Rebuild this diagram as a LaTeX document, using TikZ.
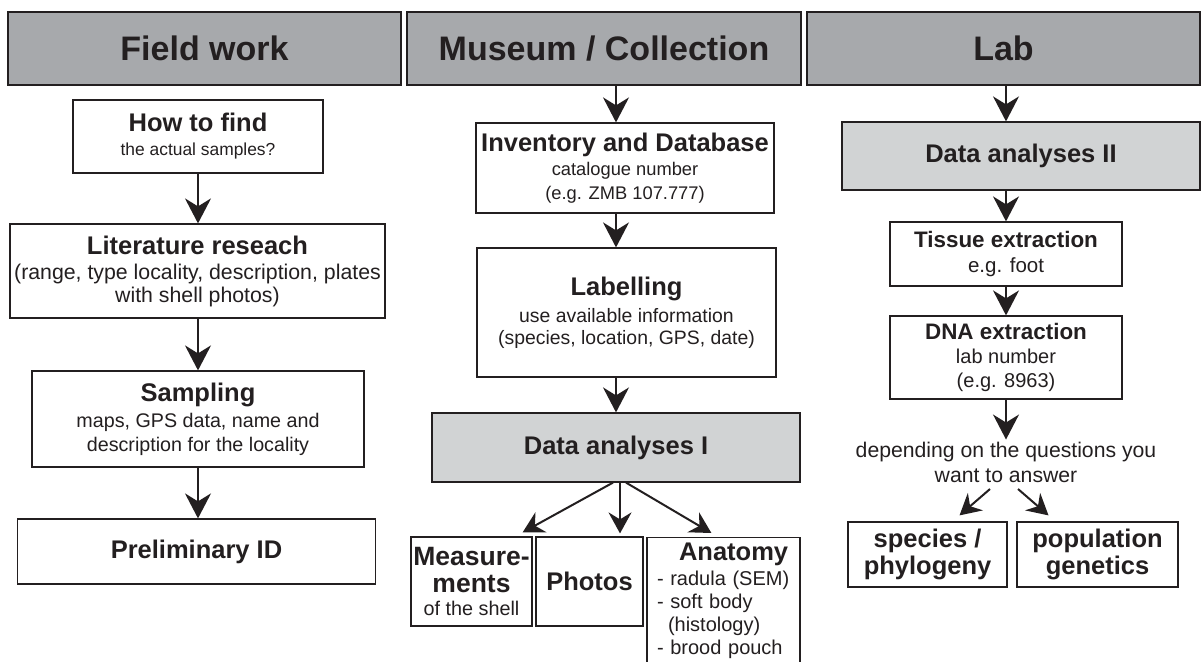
\documentclass[tikz,border=0pt]{standalone}
\usepackage{fontspec}
\setmainfont{Liberation Sans}
\usepackage{tikz}
\usetikzlibrary{positioning,arrows.meta}

\definecolor{ink}{HTML}{231F20}
\definecolor{headgray}{HTML}{A7A9AC}
\definecolor{stepgray}{HTML}{D1D3D4}

\newcommand{\boxtitle}[2]{{\bfseries\fontsize{#1}{#1}\selectfont #2}}

\tikzset{
	box/.style={draw=ink, line width=1.2pt, fill=white, text=ink, inner sep=0pt, align=center},
	header/.style={box, fill=headgray, line width=2pt, minimum height=73pt, font=\bfseries\fontsize{34}{40}\selectfont},
	shaded/.style={box, fill=stepgray},
	arr/.style={draw=ink, line width=2pt, -{Stealth[length=25pt,width=26pt,inset=8pt]}},
	arrsmall/.style={draw=ink, line width=2pt, -{Stealth[length=21pt,width=23pt,inset=7pt]}},
}

\begin{document}
\begin{tikzpicture}[x=1pt,y=-1pt]
		\useasboundingbox (0,0) rectangle (1201,661);
		\clip (0,0) rectangle (1201,661);
		% Headers
		\node[header, minimum width=393pt] (hdrField) at (204.5,48.5) {Field work};
		\node[header, minimum width=394pt] (hdrMuseum) at (604,48.5) {Museum / Collection};
		\node[header, minimum width=393pt] (hdrLab) at (1003.5,48.5) {Lab};
		% Field work
		\node[box, minimum width=250pt, minimum height=73pt, font=\fontsize{17.4}{21}\selectfont] (find) at (198,136.5)
			{\boxtitle{25.5}{How to find}\\[3pt] the actual samples?};
		\node[box, minimum width=375pt, minimum height=94pt, font=\fontsize{21.3}{23}\selectfont] (lit) at (197.5,271)
			{\boxtitle{25.5}{Literature reseach}\\[2pt] (range, type locality, description, plates\\ with shell photos)};
		\node[box, minimum width=332pt, minimum height=96pt, font=\fontsize{19.7}{24}\selectfont] (samp) at (198,419)
			{\boxtitle{25.5}{Sampling}\\[2pt] maps, GPS data, name and\\ description for the locality};
		\node[box, minimum width=358pt, minimum height=65pt] (prelim) at (196.5,551.5)
			{\boxtitle{25.5}{Preliminary ID}};
		\draw[arr] (find.south) -- (find.south |- lit.north);
		\draw[arr] (lit.south -| find.south) -- (find.south |- samp.north);
		\draw[arr] (samp.south -| find.south) -- (find.south |- prelim.north);
		% Museum / Collection
		\node[box, minimum width=298pt, minimum height=90pt, font=\fontsize{18.3}{24}\selectfont] (inv) at (625,168)
			{\boxtitle{25.5}{Inventory and Database}\\[0pt] catalogue number\\ (e.g. ZMB 107.777)};
		\node[box, minimum width=299pt, minimum height=129pt, font=\fontsize{19.4}{22}\selectfont] (lbl) at (626.5,312.5)
			{\boxtitle{25.5}{Labelling}\\[5pt] use available information\\ (species, location, GPS, date)};
		\node[shaded, minimum width=368pt, minimum height=69pt] (da1) at (616,447.5)
			{\boxtitle{25.5}{Data analyses I}};
		\node[box, minimum width=121pt, minimum height=89pt, font=\fontsize{19.8}{24}\selectfont] (meas) at (471.5,581.5)
			{\boxtitle{26.5}{Measure-}\\[3pt] \boxtitle{26.5}{ments}\\[-1pt] of the shell};
		\node[box, minimum width=107pt, minimum height=89pt] (photos) at (589.5,581.5)
			{\boxtitle{25.5}{Photos}};
		\node[box, anchor=north, text width=133pt, inner xsep=10pt, align=left, font=\fontsize{20}{23}\selectfont] (anat) at (723.5,537)
			{\rule{0pt}{23pt}\hspace*{22pt}\boxtitle{25.5}{Anatomy}\\[2pt]
			- radula (SEM)\\ - soft body\\ \hspace*{11pt}(histology)\\ - brood pouch\par\vspace*{40pt}};
		\draw[arr] (hdrMuseum.south -| da1.north) -- (inv.north -| da1.north);
		\draw[arr] (inv.south -| da1.north) -- (lbl.north -| da1.north);
		\draw[arr] (lbl.south -| da1.north) -- (da1.north);
		\draw[arrsmall] ([xshift=-3pt]da1.south) -- ([xshift=-10pt,yshift=4pt]meas.north east);
		\draw[arrsmall] ([xshift=4pt]da1.south) -- ([xshift=4pt,yshift=3pt]da1.south |- photos.north);
		\draw[arrsmall] ([xshift=10pt]da1.south) -- ([xshift=65pt,yshift=4pt]anat.north west);
		% Lab
		\node[shaded, minimum width=358pt, minimum height=68pt] (da2) at (1021,156)
			{\boxtitle{25.5}{Data analyses II}};
		\node[box, minimum width=232pt, minimum height=64pt, font=\fontsize{20.5}{24}\selectfont] (tissue) at (1006,254)
			{\boxtitle{22.4}{Tissue extraction}\\[1pt] e.g. foot};
		\node[box, minimum width=232pt, minimum height=83pt, font=\fontsize{20}{24}\selectfont] (dna) at (1006,357.5)
			{\boxtitle{22.4}{DNA extraction}\\[0pt] lab number\\ (e.g. 8963)};
		\node[text=ink, align=center, inner sep=0pt, font=\fontsize{21.2}{25}\selectfont] (question) at (1006,462)
			{depending on the questions you\\ want to answer};
		\node[box, minimum width=159pt, minimum height=65pt, font=\bfseries\fontsize{25.5}{27}\selectfont] (species) at (927.5,554.5)
			{species /\\ phylogeny};
		\node[box, minimum width=161pt, minimum height=65pt, font=\bfseries\fontsize{25.5}{27}\selectfont] (popgen) at (1097.5,554.5)
			{population\\ genetics};
		\coordinate (qleft) at (990,489);
		\coordinate (qright) at (1018,489);
		\draw[arr] (hdrLab.south -| tissue.north) -- (da2.north -| tissue.north);
		\draw[arr] (da2.south -| tissue.north) -- (tissue.north);
		\draw[arr] (tissue.south) -- (dna.north);
		\draw[arr] (dna.south) -- ([yshift=2pt]question.north);
		\draw[arrsmall] (qleft) -- ([xshift=32pt,yshift=6pt]species.north);
		\draw[arrsmall] (qright) -- ([xshift=-49pt,yshift=6pt]popgen.north);
\end{tikzpicture}
\end{document}
